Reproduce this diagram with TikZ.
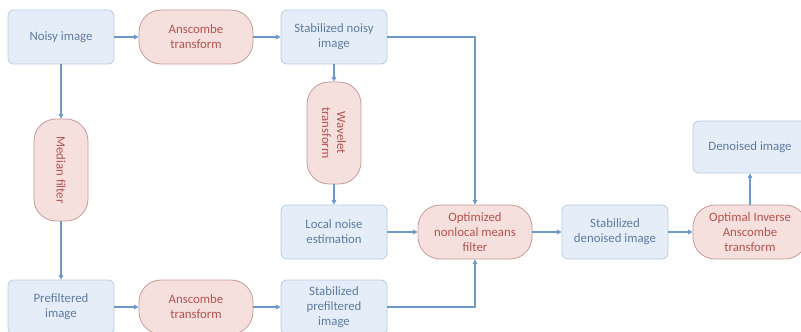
\documentclass[tikz,border=0pt]{standalone}
\usepackage{fontspec}
\setmainfont{Carlito}
\usetikzlibrary{arrows.meta}
\definecolor{boxfill}{HTML}{E5EEF8}
\definecolor{boxline}{HTML}{B7CBE3}
\definecolor{boxtext}{HTML}{5F7BA1}
\definecolor{pillfill}{HTML}{F6E0DE}
\definecolor{pillline}{HTML}{C79A96}
\definecolor{pilltext}{HTML}{B5524F}
\definecolor{flow}{HTML}{6D9ACB}
\begin{document}
\begin{tikzpicture}[x=1pt,y=-1pt,
    imgbox/.style={rectangle, rounded corners=6pt, draw=boxline, fill=boxfill, text=boxtext,
      line width=0.8pt, minimum width=106pt, minimum height=54pt, align=center,
      font=\fontsize{12.8}{15}\selectfont},
    procpill/.style={rectangle, rounded corners=22pt, draw=pillline, fill=pillfill, text=pilltext,
      line width=0.8pt, minimum width=114pt, minimum height=54pt, align=center,
      font=\fontsize{12.8}{15}\selectfont},
    vpill/.style={procpill, rotate=-90, minimum width=102pt, minimum height=54pt},
    flowarr/.style={draw=flow, line width=1.2pt, -{Triangle[length=4.5pt,width=4.5pt]}}]
    \useasboundingbox (0,0) rectangle (801,332);

    % top row
    \node[imgbox] (noisy) at (61,37) {Noisy image};
    \node[procpill] (ansTop) at (196,37) {Anscombe\\transform};
    \node[imgbox] (stabNoisy) at (334,37) {Stabilized noisy\\image};

    % vertical filters
    \node[vpill] (median) at (61,170) {Median filter};
    \node[vpill] (wavelet) at (334,133) {Wavelet\\transform};
    \node[imgbox] (localNoise) at (334,232) {Local noise\\estimation};

    % bottom row
    \node[imgbox] (prefilt) at (61,307) {Prefiltered\\image};
    \node[procpill] (ansBot) at (196,307) {Anscombe\\transform};
    \node[imgbox] (stabPre) at (334,307) {Stabilized\\prefiltered\\image};

    % middle row
    \node[procpill] (nlm) at (475,232) {Optimized\\nonlocal means\\filter};
    \node[imgbox] (stabDen) at (615,232) {Stabilized\\denoised image};
    \node[procpill] (invAns) at (750,232) {Optimal Inverse\\Anscombe\\transform};
    \node[imgbox, minimum width=114pt, minimum height=52pt] (denoised) at (750,147) {Denoised image};

    \foreach \a/\b in {noisy/ansTop, ansTop/stabNoisy, stabNoisy/wavelet, wavelet/localNoise,
                       noisy/median, median/prefilt, prefilt/ansBot, ansBot/stabPre,
                       localNoise/nlm, nlm/stabDen, stabDen/invAns, invAns/denoised} {
      \draw[flowarr] (\a) -- (\b);
    }
    \draw[flowarr] (stabNoisy) -| (nlm);
    \draw[flowarr] (stabPre) -| (nlm);
\end{tikzpicture}
\end{document}
